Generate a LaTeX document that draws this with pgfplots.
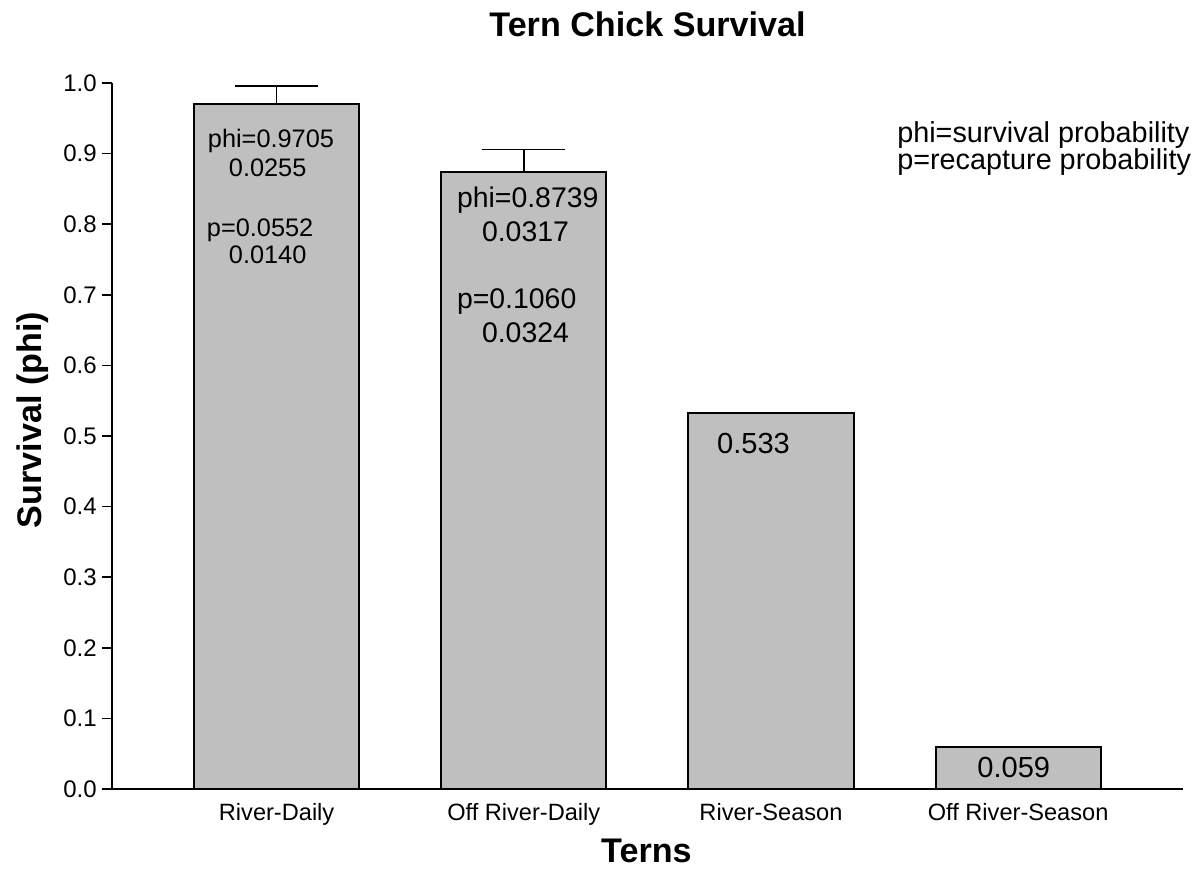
\documentclass[border=0pt]{standalone}
\usepackage{fontspec}
\setmainfont{Liberation Sans}
\usepackage{pgfplots}
\pgfplotsset{compat=1.18}
\definecolor{barGrey}{RGB}{191,191,191}

\begin{document}
\begin{tikzpicture}
\begin{axis}[
    scale only axis, width=803.25pt, height=529.5pt,
    xmin=-0.666, xmax=3.667, ymin=0, ymax=1,
    axis x line*=bottom, axis y line*=left,
    axis line style={-, line width=1.5pt, black},
    clip=false,
    tick align=outside, major tick length=7.5pt,
    ytick={0,0.1,0.2,0.3,0.4,0.5,0.6,0.7,0.8,0.9,1},
    ytick style={line width=1.2pt, black},
    yticklabel style={font=\fontsize{18}{20}\selectfont, inner sep=0pt, xshift=-3.75pt,
        /pgf/number format/fixed, /pgf/number format/fixed zerofill,
        /pgf/number format/precision=1, /pgf/number format/assume math mode=true},
    xtick={0,1,2,3},
    xticklabels={River-Daily, Off River-Daily, River-Season, Off River-Season},
    xtick style={draw=none},
    xticklabel style={font=\fontsize{17.7}{20}\selectfont, anchor=base, yshift=-16.5pt},
]
% bars
\addplot[ybar, bar width=0.668, fill=barGrey, draw=black, line width=1.5pt]
    coordinates {(0,0.9705) (1,0.8739) (2,0.533) (3,0.059)};
% upper error bars
\addplot[draw=none, mark=none, forget plot,
    error bars/.cd, y dir=plus, y explicit,
    error bar style={draw=black, line width=1.2pt},
    error mark options={rotate=90, mark size=31pt, draw=black, line width=1.2pt}]
    coordinates {(0,0.9705) +- (0,0.0255) (1,0.8739) +- (0,0.0317)};

% labels inside the bars
\node[anchor=base west, font=\fontsize{19}{20}\selectfont] at (axis cs:-0.297,0.909) {phi=0.9705};
\node[anchor=base west, font=\fontsize{19}{20}\selectfont] at (axis cs:-0.212,0.867) {0.0255};
\node[anchor=base west, font=\fontsize{19}{20}\selectfont] at (axis cs:-0.301,0.782) {p=0.0552};
\node[anchor=base west, font=\fontsize{19}{20}\selectfont] at (axis cs:-0.212,0.745) {0.0140};
\node[anchor=base west, font=\fontsize{21.3}{22}\selectfont] at (axis cs:0.711,0.824) {phi=0.8739};
\node[anchor=base west, font=\fontsize{21.3}{22}\selectfont] at (axis cs:0.812,0.776) {0.0317};
\node[anchor=base west, font=\fontsize{21.3}{22}\selectfont] at (axis cs:0.711,0.681) {p=0.1060};
\node[anchor=base west, font=\fontsize{21.3}{22}\selectfont] at (axis cs:0.812,0.632) {0.0324};
\node[anchor=base west, font=\fontsize{21.8}{24}\selectfont] at (axis cs:1.763,0.4745) {0.533};
\node[anchor=base west, font=\fontsize{21.8}{24}\selectfont] at (axis cs:2.816,0.0156) {0.059};

% key text
\node[anchor=base west, font=\fontsize{21.6}{24}\selectfont] at (axis cs:2.492,0.915) {phi=survival probability};
\node[anchor=base west, font=\fontsize{21.6}{24}\selectfont] at (axis cs:2.492,0.877) {p=recapture probability};

% title and axis labels
\node[anchor=base, font=\bfseries\fontsize{25.6}{28}\selectfont] at (rel axis cs:0.5,1.0652) {Tern Chick Survival};
\node[anchor=base, font=\bfseries\fontsize{25.6}{28}\selectfont] at (rel axis cs:0.499,-0.1048) {Terns};
\node[anchor=base, rotate=90, font=\bfseries\fontsize{25.6}{28}\selectfont] at (rel axis cs:-0.0654,0.5227) {Survival (phi)};

\coordinate (bbA) at (rel axis cs:-0.10458,-0.11331);
\coordinate (bbB) at (rel axis cs:1.01774,1.11756);
\end{axis}
\pgfresetboundingbox
\path[use as bounding box] (bbA) rectangle (bbB);
\end{tikzpicture}
\end{document}
